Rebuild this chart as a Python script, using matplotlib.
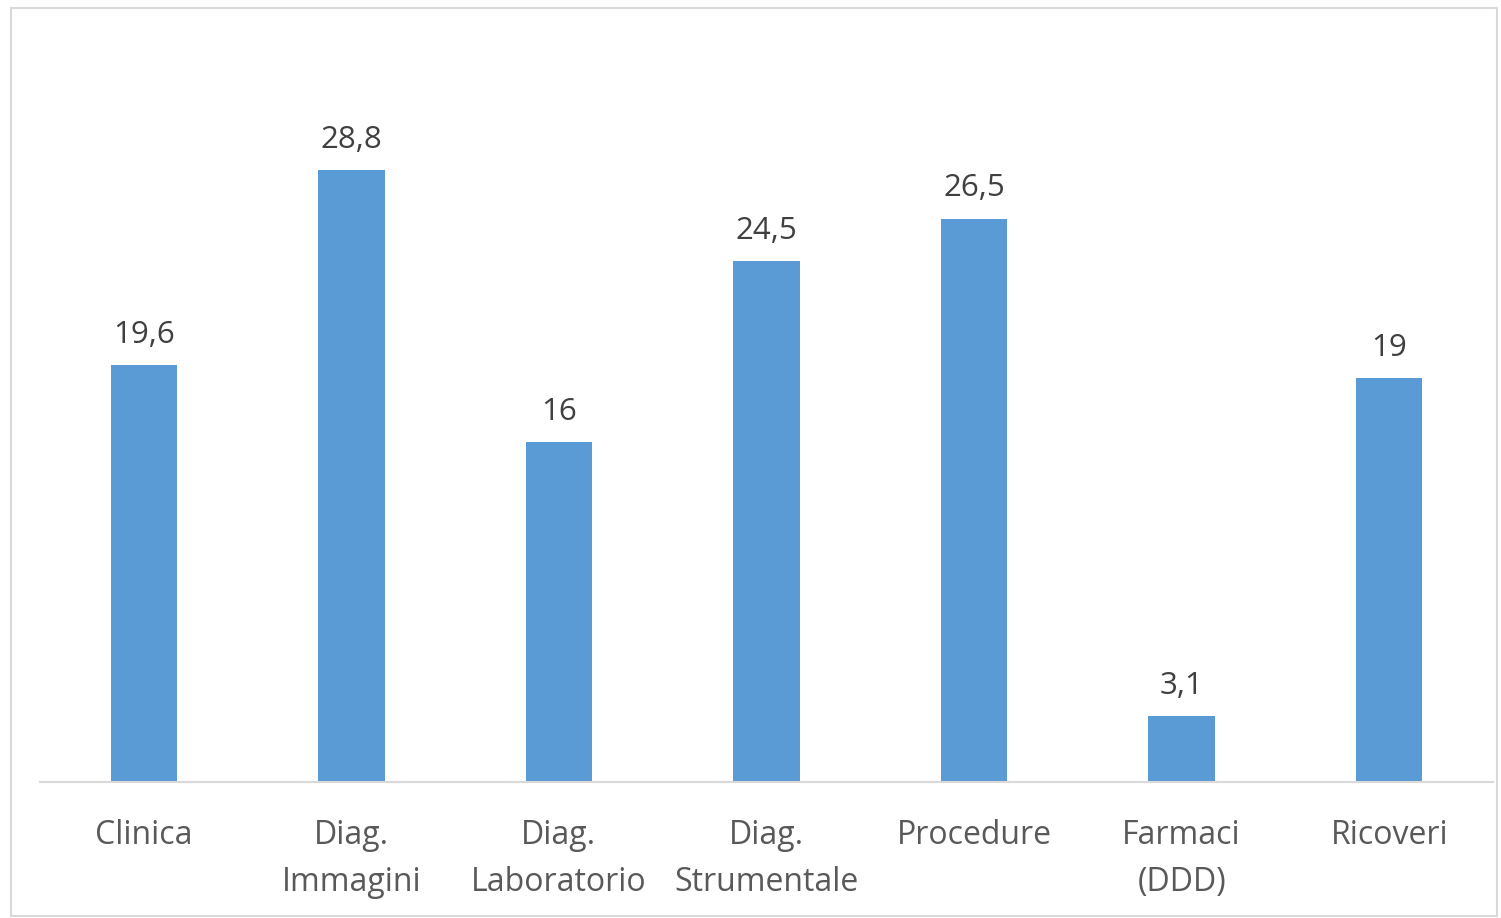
import matplotlib.pyplot as plt
from matplotlib.patches import Rectangle

categories = ["Clinica", "Diag.\nImmagini", "Diag.\nLaboratorio", "Diag.\nStrumentale",
              "Procedure", "Farmaci\n(DDD)", "Ricoveri"]
values = [19.6, 28.8, 16, 24.5, 26.5, 3.1, 19]
value_labels = ["19,6", "28,8", "16", "24,5", "26,5", "3,1", "19"]

plt.rcParams["font.family"] = ["Open Sans", "DejaVu Sans"]
text_color = "#595959"

fig = plt.figure(figsize=(15.01, 9.18), dpi=100)
W, H = 1501, 918
# axes: left 40, right 1493, baseline y=782, top y=38
ax = fig.add_axes([40 / W, 1 - 782 / H, 1453 / W, (782 - 38) / H])

x = range(len(categories))
ax.bar(x, values, width=0.32, color="#5B9BD5", zorder=2)
for xi, v, lab in zip(x, values, value_labels):
    ax.annotate(lab, (xi, v), xytext=(0, 11), textcoords="offset points",
                ha="center", va="bottom", fontsize=22.5, color="#404040")

ax.set_xlim(-0.5, len(categories) - 0.5)
ax.set_ylim(0, 35)
ax.set_xticks(list(x))
ax.set_xticklabels(categories, fontsize=23, color=text_color, linespacing=1.55)
ax.tick_params(axis="x", length=0, pad=26.5)
ax.set_yticks([])
for side in ["left", "right", "top"]:
    ax.spines[side].set_visible(False)
ax.spines["bottom"].set_color("#D9D9D9")
ax.spines["bottom"].set_linewidth(1.5)

border = Rectangle((11 / W, 1 - 916 / H), (1497 - 11) / W, (916 - 8) / H,
                   transform=fig.transFigure, fill=False, edgecolor="#D9D9D9", linewidth=1.5)
fig.patches.append(border)

fig.savefig("out.png", dpi=100)
